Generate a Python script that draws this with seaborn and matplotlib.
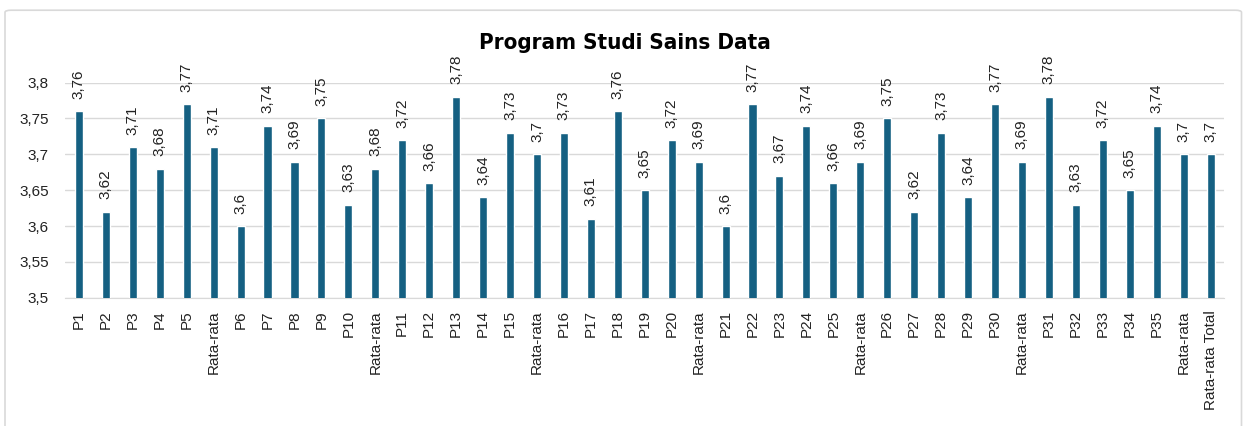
import matplotlib
matplotlib.use('Agg')
import matplotlib.pyplot as plt
import seaborn as sns
import pandas as pd
from matplotlib.ticker import FuncFormatter
from matplotlib.patches import FancyBboxPatch

labels = ['P1', 'P2', 'P3', 'P4', 'P5', 'Rata-rata',
          'P6', 'P7', 'P8', 'P9', 'P10', 'Rata-rata',
          'P11', 'P12', 'P13', 'P14', 'P15', 'Rata-rata',
          'P16', 'P17', 'P18', 'P19', 'P20', 'Rata-rata',
          'P21', 'P22', 'P23', 'P24', 'P25', 'Rata-rata',
          'P26', 'P27', 'P28', 'P29', 'P30', 'Rata-rata',
          'P31', 'P32', 'P33', 'P34', 'P35', 'Rata-rata',
          'Rata-rata Total']
values = [3.76, 3.62, 3.71, 3.68, 3.77, 3.71,
          3.6, 3.74, 3.69, 3.75, 3.63, 3.68,
          3.72, 3.66, 3.78, 3.64, 3.73, 3.7,
          3.73, 3.61, 3.76, 3.65, 3.72, 3.69,
          3.6, 3.77, 3.67, 3.74, 3.66, 3.69,
          3.75, 3.62, 3.73, 3.64, 3.77, 3.69,
          3.78, 3.63, 3.72, 3.65, 3.74, 3.7,
          3.7]
yticks = [3.5, 3.55, 3.6, 3.65, 3.7, 3.75, 3.8]

df = pd.DataFrame({'pos': range(len(values)), 'nilai': values})

def koma(v):
    return f'{v:g}'.replace('.', ',')

sns.set_style('white')
plt.rcParams['font.family'] = ['Liberation Sans', 'DejaVu Sans']

fig = plt.figure(figsize=(12.49, 4.26), dpi=100)
ax = fig.add_axes([0.0524, 0.301, 0.9276, 0.505])

sns.barplot(data=df, x='pos', y='nilai', color='#156082', width=0.3,
            saturation=1, ax=ax, zorder=3)

ax.set_ylim(3.5, 3.8)
ax.set_yticks(yticks)
ax.yaxis.set_major_formatter(FuncFormatter(lambda v, p: koma(round(v, 2))))
ax.set_xticks(range(len(labels)))
ax.set_xticklabels(labels, rotation=90)
ax.set_xlim(-0.5, len(values) - 0.5)
ax.tick_params(axis='both', length=0, labelsize=11, colors='#222222')
ax.tick_params(axis='x', pad=9)
ax.tick_params(axis='y', pad=12)
ax.set_xlabel('')
ax.set_ylabel('')
ax.grid(axis='y', color='#d9d9d9', linewidth=1, zorder=0)
for s in ['top', 'right', 'left']:
    ax.spines[s].set_visible(False)
ax.spines['bottom'].set_color('#d9d9d9')

ax.bar_label(ax.containers[0], labels=[koma(v) for v in values],
             rotation=90, padding=9, fontsize=11, color='#222222')

fig.text(0.5, 0.898, 'Program Studi Sains Data', ha='center', va='center',
         fontsize=16, fontweight='bold', fontstretch='condensed',
         family=['DejaVu Sans'], color='black')

frame = FancyBboxPatch((0.004, -0.05), 0.99, 1.026, boxstyle='round,pad=0,rounding_size=0.005',
                       transform=fig.transFigure, fill=False, edgecolor='#d9d9d9', linewidth=1.2)
fig.patches.append(frame)

fig.savefig('out.png', dpi=100)
